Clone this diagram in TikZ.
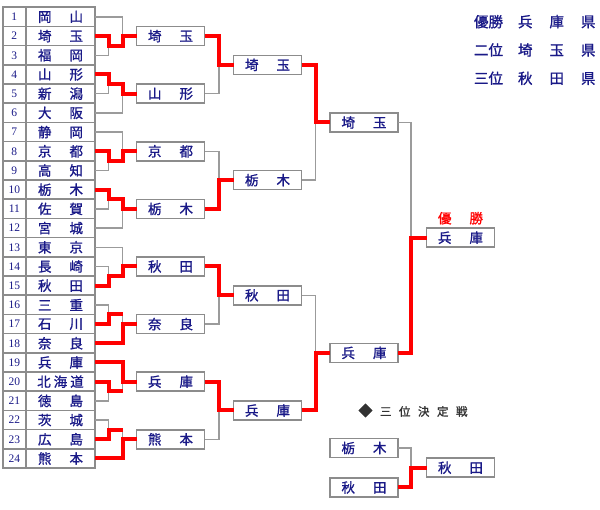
\documentclass[tikz,border=0pt]{standalone}
\usepackage{fontspec}
\setmainfont{Noto Sans CJK JP}[FakeBold=1.2]
\newfontfamily\numfont{Liberation Serif}
\usepackage{tikz}
\usetikzlibrary{positioning, calc}
\definecolor{teamblue}{RGB}{25,25,135}
\definecolor{linegray}{RGB}{155,155,155}
\definecolor{boxgray}{RGB}{140,140,140}
\definecolor{headgray}{RGB}{50,50,50}
\newcommand{\pgap}{\hspace{18pt}}

\begin{document}
\begin{tikzpicture}[
    x=1pt, y=-1pt,
    cell/.style={rectangle, draw=boxgray, line width=1.6pt, inner sep=0pt, outer sep=0pt, minimum height=19.2pt, text=teamblue},
    numcell/.style={cell, minimum width=23.3pt, font=\numfont\fontsize{11.5}{11.5}\selectfont},
    namecell/.style={cell, minimum width=69pt, font=\fontsize{13.5}{13.5}\selectfont},
    box/.style={rectangle, draw=boxgray, fill=white, line width=1.6pt, inner sep=0pt, outer sep=0pt, minimum width=68pt, minimum height=19pt, text=teamblue, font=\fontsize{13.5}{13.5}\selectfont},
    legend/.style={anchor=west, inner sep=0pt, text=teamblue, font=\fontsize{14.5}{14.5}\selectfont},
    gl/.style={draw=linegray, line width=1.3pt},
    rl/.style={draw=red, line width=4pt}
]
    \useasboundingbox (0,0) rectangle (600,510);

    % 出場校の表
    \foreach \i/\team in {1/岡\pgap{}山, 2/埼\pgap{}玉, 3/福\pgap{}岡, 4/山\pgap{}形, 5/新\pgap{}潟, 6/大\pgap{}阪,
        7/静\pgap{}岡, 8/京\pgap{}都, 9/高\pgap{}知, 10/栃\pgap{}木, 11/佐\pgap{}賀, 12/宮\pgap{}城,
        13/東\pgap{}京, 14/長\pgap{}崎, 15/秋\pgap{}田, 16/三\pgap{}重, 17/石\pgap{}川, 18/奈\pgap{}良,
        19/兵\pgap{}庫, 20/北\hspace{3pt}海\hspace{3pt}道, 21/徳\pgap{}島, 22/茨\pgap{}城, 23/広\pgap{}島, 24/熊\pgap{}本} {
        \node[numcell] (n\i) at (14.35, {7.3+(\i-0.5)*19.2}) {\i};
        \node[namecell, right=0pt of n\i] (t\i) {\team};
    }

    % 2回戦の勝者
    \node[box] (w1) at ($(t2)+(110,0)$) {埼\pgap{}玉};
    \node[box] (w2) at ($(t5)+(110,0)$) {山\pgap{}形};
    \node[box] (w3) at ($(t8)+(110,0)$) {京\pgap{}都};
    \node[box] (w4) at ($(t11)+(110,0)$) {栃\pgap{}木};
    \node[box] (w5) at ($(t14)+(110,0)$) {秋\pgap{}田};
    \node[box] (w6) at ($(t17)+(110,0)$) {奈\pgap{}良};
    \node[box] (w7) at ($(t20)+(110,0)$) {兵\pgap{}庫};
    \node[box] (w8) at ($(t23)+(110,0)$) {熊\pgap{}本};

    % 準々決勝・準決勝・決勝
    \node[box] (q1) at ($(w1)!.5!(w2)+(97,0)$) {埼\pgap{}玉};
    \node[box] (q2) at ($(w3)!.5!(w4)+(97,0)$) {栃\pgap{}木};
    \node[box] (q3) at ($(w5)!.5!(w6)+(97,0)$) {秋\pgap{}田};
    \node[box] (q4) at ($(w7)!.5!(w8)+(97,0)$) {兵\pgap{}庫};
    \node[box] (s1) at ($(q1)!.5!(q2)+(96.5,0)$) {埼\pgap{}玉};
    \node[box] (s2) at ($(q3)!.5!(q4)+(96.5,0)$) {兵\pgap{}庫};
    \node[box] (champ) at ($(s1)!.5!(s2)+(96.5,0)$) {兵\pgap{}庫};
    \node[text=red, font=\fontsize{13.5}{13.5}\selectfont] (yusho) at ($(champ)+(0,-19.5)$) {優\pgap{}勝};

    % 三位決定戦
    \node[text=headgray, font=\fontsize{11.5}{11.5}\selectfont] (third) at (413,410.5)
        {{\fontsize{14}{14}\selectfont ◆}\hspace{7.5pt}三\hspace{7.5pt}位\hspace{7.5pt}決\hspace{7.5pt}定\hspace{7.5pt}戦};
    \node[box] (p1) at (364,448) {栃\pgap{}木};
    \node[box, below=20.5pt of p1] (p2) {秋\pgap{}田};
    \node[box] (p3) at ($(p1)!.5!(p2)+(96.5,0)$) {秋\pgap{}田};

    % 成績
    \node[legend] (rank1) at (473.8,21.7) {優勝\hspace{15pt}兵\hspace{17pt}庫\hspace{17pt}県};
    \node[legend] (rank2) at (473.8,50) {二位\hspace{15pt}埼\hspace{17pt}玉\hspace{17pt}県};
    \node[legend] (rank3) at (473.8,78.3) {三位\hspace{15pt}秋\hspace{17pt}田\hspace{17pt}県};

    % 1回戦
    \foreach \a/\b/\k in {2/3/1, 4/5/2, 8/9/3, 10/11/4, 14/15/5, 16/17/6, 20/21/7, 22/23/8} {
        \draw[gl] (t\a.east) -- ++(13.5,0) |- (t\b.east);
        \coordinate (j\k) at ($(t\a.east)!.5!(t\b.east)+(13.5,0)$);
    }
    % シード校
    \foreach \c/\k in {1/1, 6/2, 7/3, 12/4, 13/5, 18/6, 19/7, 24/8} {
        \draw[gl] (t\c.east) -- ++(27.5,0) |- (j\k);
        \draw[gl] (w\k.west) -- ++(-14,0);
    }
    \foreach \a/\b/\k in {1/2/1, 3/4/2, 5/6/3, 7/8/4} {
        \draw[gl] (w\a.east) -- ++(14.5,0) |- (w\b.east);
        \draw[gl] (q\k.west) -- ++(-14,0);
    }
    \foreach \a/\b/\k in {1/2/1, 3/4/2} {
        \draw[gl] (q\a.east) -- ++(14,0) |- (q\b.east);
        \draw[gl] (s\k.west) -- ++(-13.5,0);
    }
    \draw[gl] (s1.east) -- ++(13,0) |- (s2.east);
    \draw[gl] (champ.west) -- ++(-14,0);
    \draw[gl] (p1.east) -- ++(13,0) |- (p2.east);
    \draw[gl] (p3.west) -- ++(-14,0);

    % 勝ち上がり
    \foreach \r/\k in {2/1, 4/2, 8/3, 10/4, 15/5}
        \draw[rl] (t\r.east) -| (j\k) -- ++(14,0) |- (w\k.west);
    \foreach \r/\s/\k in {17/18/6, 20/19/7, 23/24/8} {
        \draw[rl] (t\r.east) -| (j\k) -- ++(14,0);
        \draw[rl] (t\s.east) -- ++(27.5,0) |- (w\k.west);
    }
    \draw[rl] (w1.east) -- ++(14.5,0) |- (q1.west);
    \draw[rl] (w4.east) -- ++(14.5,0) |- (q2.west);
    \draw[rl] (w5.east) -- ++(14.5,0) |- (q3.west);
    \draw[rl] (w7.east) -- ++(14.5,0) |- (q4.west);
    \draw[rl] (q1.east) -- ++(14,0) |- (s1.west);
    \draw[rl] (q4.east) -- ++(14,0) |- (s2.west);
    \draw[rl] (s2.east) -- ++(13,0) |- (champ.west);
    \draw[rl] (p2.east) -- ++(13,0) |- (p3.west);

\end{tikzpicture}
\end{document}
